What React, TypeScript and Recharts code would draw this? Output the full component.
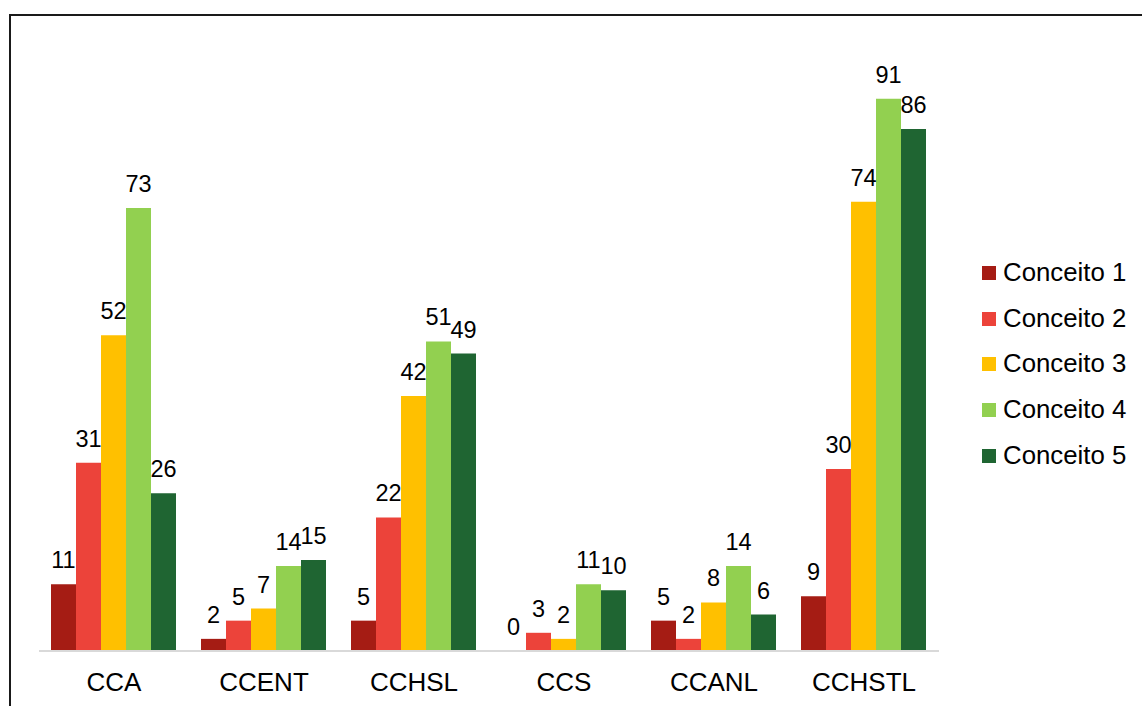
import React from "react";
import { BarChart, Bar, XAxis, YAxis, Legend, LabelList } from "recharts";

const categories = ["CCA", "CCENT", "CCHSL", "CCS", "CCANL", "CCHSTL"];
const conceito1 = [11, 2, 5, 0, 5, 9];
const conceito2 = [31, 5, 22, 3, 2, 30];
const conceito3 = [52, 7, 42, 2, 8, 74];
const conceito4 = [73, 14, 51, 11, 14, 91];
const conceito5 = [26, 15, 49, 10, 6, 86];

const seriesNames = ["Conceito 1", "Conceito 2", "Conceito 3", "Conceito 4", "Conceito 5"];
const seriesColors = ["#A51C14", "#EC433A", "#FFC000", "#92D050", "#1F6532"];
const seriesValues = [conceito1, conceito2, conceito3, conceito4, conceito5];

const data = categories.map((name, i) => {
  const row: Record<string, string | number> = { name };
  seriesNames.forEach((s, j) => {
    row[s] = seriesValues[j][i];
  });
  return row;
});

const FONT = '"Liberation Sans", Arial, sans-serif';

function LegendBox() {
  return (
    <div style={{ fontFamily: FONT }}>
      {seriesNames.map((s, i) => (
        <div
          key={s}
          style={{ display: "flex", alignItems: "center", height: 45.7 }}
        >
          <span
            style={{
              width: 14,
              height: 14,
              background: seriesColors[i],
              display: "inline-block",
              marginRight: 7,
            }}
          />
          <span style={{ fontSize: 25.8, color: "#000", lineHeight: 1 }}>{s}</span>
        </div>
      ))}
    </div>
  );
}

export default function App() {
  return (
    <div style={{ position: "absolute", left: 0, top: 0, width: 1142, height: 706, background: "#fff" }}>
      <div
        style={{
          position: "absolute",
          left: 9,
          top: 14,
          width: 1133,
          height: 692,
          borderLeft: "2px solid #1a1a1a",
          borderTop: "2px solid #1a1a1a",
          boxSizing: "border-box",
        }}
      />
      <div style={{ position: "absolute", left: 0, top: 0 }}>
        <BarChart
          width={1142}
          height={706}
          data={data}
          margin={{ top: 44, right: 203, left: 39, bottom: 0 }}
          barCategoryGap="8%"
          barGap={0}
        >
          <XAxis
            dataKey="name"
            height={55}
            axisLine={{ stroke: "#d9d9d9", strokeWidth: 2 }}
            tickLine={false}
            tickSize={0}
            tickMargin={22}
            tick={{ fontSize: 26, fill: "#000", fontFamily: FONT }}
          />
          <YAxis hide domain={[0, 100]} />
          <Legend
            layout="vertical"
            align="center"
            verticalAlign="middle"
            content={() => <LegendBox />}
            wrapperStyle={{ left: 982, top: 250, width: 160, height: 230 }}
          />
          {seriesNames.map((s, i) => (
            <Bar
              key={s}
              dataKey={s}
              fill={seriesColors[i]}
              isAnimationActive={false}
              minPointSize={(v: number) => (v === 0 ? 0.01 : 0)}
            >
              <LabelList
                dataKey={s}
                position="top"
                offset={16}
                style={{ fontSize: 23.5, fill: "#000", fontFamily: FONT }}
              />
            </Bar>
          ))}
        </BarChart>
      </div>
    </div>
  );
}
